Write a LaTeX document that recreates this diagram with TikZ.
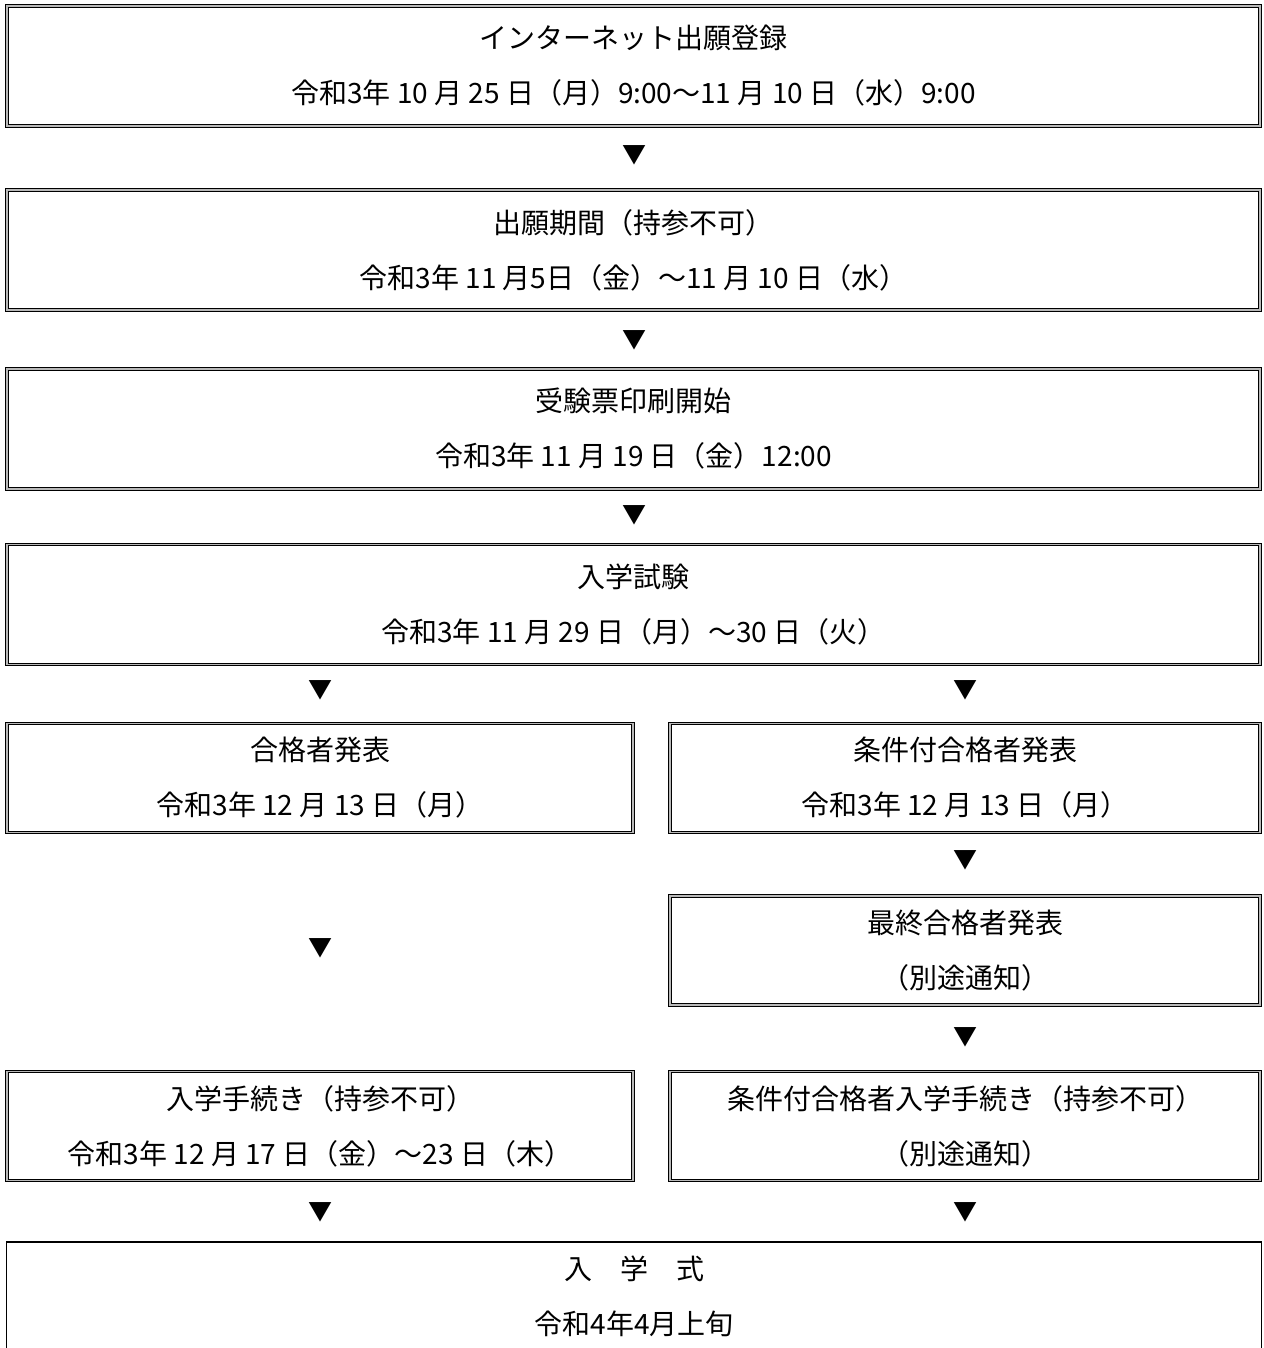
\documentclass[tikz,border=0pt]{standalone}
\usepackage{fontspec}
\setmainfont{Noto Sans CJK JP}
\begin{document}
\begin{tikzpicture}[x=1pt, y=-1pt,
    stage/.style={draw=black, double=gray!55, line width=0.8pt, double distance=1.7pt,
      align=center, inner sep=0pt, font=\fontsize{28}{55}\selectfont},
    wide/.style={stage, minimum width=1253pt, minimum height=120pt},
    lhalf/.style={stage, minimum width=626pt, minimum height=109pt},
    rhalf/.style={stage, minimum width=590pt, minimum height=109pt},
    finalbox/.style={draw=black, line width=1.5pt, align=center, inner sep=0pt,
      minimum width=1255pt, minimum height=108pt, font=\fontsize{28}{55}\selectfont},
    tri/.style={inner sep=0pt, font=\fontsize{24}{24}\selectfont}]
  \clip (0,0) rectangle (1263,1348);

  \node[wide] (entry) at (633.5,66) {インターネット出願登録\\令和3年 10 月 25 日（月）9:00～11 月 10 日（水）9:00};
  \node[wide] (apply) at (633.5,250) {出願期間（持参不可）\\令和3年 11 月5日（金）～11 月 10 日（水）};
  \node[wide] (ticket) at (633.5,429) {受験票印刷開始\\令和3年 11 月 19 日（金）12:00};
  \node[wide] (exam) at (633.5,604.5) {入学試験\\令和3年 11 月 29 日（月）～30 日（火）};

  \node[lhalf] (pass) at (320,778) {合格者発表\\令和3年 12 月 13 日（月）};
  \node[rhalf] (cpass) at (965,778) {条件付合格者発表\\令和3年 12 月 13 日（月）};
  \node[rhalf] (fpass) at (965,950.5) {最終合格者発表\\（別途通知）};
  \node[lhalf] (enrol) at (320,1126) {入学手続き（持参不可）\\令和3年 12 月 17 日（金）～23 日（木）};
  \node[rhalf] (cenrol) at (965,1126) {条件付合格者入学手続き（持参不可）\\（別途通知）};

  \node[finalbox] (ceremony) at (634,1296) {入　学　式\\令和4年4月上旬};

  \node[tri] (t1) at (634,155) {▼};
  \node[tri] (t2) at (634,340) {▼};
  \node[tri] (t3) at (634,515) {▼};
  \node[tri] (t4) at (320,690) {▼};
  \node[tri] (t5) at (965,690) {▼};
  \node[tri] (t6) at (965,860) {▼};
  \node[tri] (t7) at (320,948) {▼};
  \node[tri] (t8) at (965,1037) {▼};
  \node[tri] (t9) at (320,1212) {▼};
  \node[tri] (t10) at (965,1212) {▼};
\end{tikzpicture}
\end{document}
